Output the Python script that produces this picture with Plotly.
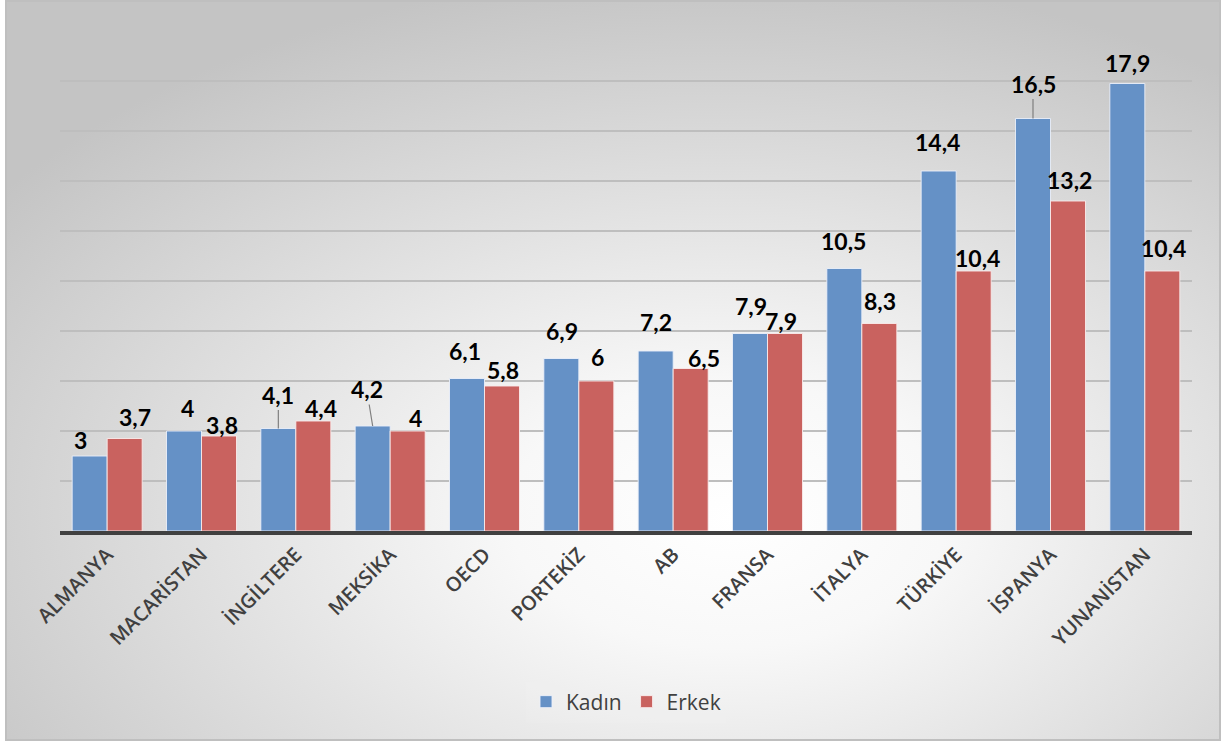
import base64
import plotly.graph_objects as go

# ---- data ----
categories = ["ALMANYA", "MACARİSTAN", "İNGİLTERE", "MEKSİKA", "OECD", "PORTEKİZ",
              "AB", "FRANSA", "İTALYA", "TÜRKİYE", "İSPANYA", "YUNANİSTAN"]
kadin = [3, 4, 4.1, 4.2, 6.1, 6.9, 7.2, 7.9, 10.5, 14.4, 16.5, 17.9]
erkek = [3.7, 3.8, 4.4, 4, 5.8, 6, 6.5, 7.9, 8.3, 10.4, 13.2, 10.4]
series_names = ["Kadın", "Erkek"]

# ---- style / layout ----
W, H = 1223, 742
ML, MR, MT, MB = 60, 31, 31, 211
PW, PH = W - ML - MR, H - MT - MB
BLUE = "#6591C6"
RED = "#C9625F"
BAR_HALF = 17.5  # pixel offset of each bar from category centre

# label pixel offsets relative to bar top centre (dx, dy) and leader lines
k_dx = [-9, 3, 0, -6, -2, 1, 0, 1, -1, -1, 0, 0]
k_dy = [-16, -23, -34, -37, -28, -28, -29, -28, -28, -29, -35, -21]
k_leader = [False, False, True, True, False, False, False, False, False, False, True, False]
e_dx = [10, 3, 8, 8, 1, 1, 13, -4, 1, 4, 1, 1]
e_dy = [-22, -11, -13, -13, -16, -24, -11, -13, -23, -13, -21, -23]


def fmt(v):
    s = ("%g" % v)
    return s.replace(".", ",")


def px2paper_x(px):
    return (px - ML) / PW


def px2paper_y(py):
    return 1 - (py - MT) / PH


fig = go.Figure()
fig.add_trace(go.Bar(name=series_names[0], x=categories, y=kadin,
                     marker=dict(color=BLUE, line=dict(color="rgba(235,240,250,0.9)", width=1))))
fig.add_trace(go.Bar(name=series_names[1], x=categories, y=erkek,
                     marker=dict(color=RED, line=dict(color="rgba(250,235,235,0.9)", width=1))))

annotations = []
label_font = dict(family="Lato, Open Sans, sans-serif", size=23, color="#000000", weight="bold")
for i, c in enumerate(categories):
    # Kadın
    if k_leader[i]:
        annotations.append(dict(x=c, y=kadin[i], xref="x", yref="y", text=fmt(kadin[i]),
                                xshift=-BAR_HALF, showarrow=True, arrowhead=0, arrowwidth=1.2,
                                arrowcolor="#7F7F7F", ax=k_dx[i], ay=k_dy[i], standoff=0,
                                font=label_font))
    else:
        annotations.append(dict(x=c, y=kadin[i], xref="x", yref="y", text=fmt(kadin[i]),
                                xshift=-BAR_HALF + k_dx[i], yshift=-k_dy[i], showarrow=False,
                                yanchor="middle", font=label_font))
    # Erkek
    annotations.append(dict(x=c, y=erkek[i], xref="x", yref="y", text=fmt(erkek[i]),
                            xshift=BAR_HALF + e_dx[i], yshift=-e_dy[i], showarrow=False,
                            yanchor="middle", font=label_font))

# radial gradient background as svg image
svg = ('<svg xmlns="http://www.w3.org/2000/svg" width="1214" height="739" preserveAspectRatio="none">'
       '<defs><radialGradient id="g" cx="0.58" cy="0.68" r="0.72" fx="0.6" fy="0.7">'
       '<stop offset="0" stop-color="#FFFFFF"/>'
       '<stop offset="0.25" stop-color="#F8F8F8"/>'
       '<stop offset="1" stop-color="#C4C4C4"/>'
       '</radialGradient></defs>'
       '<rect width="1214" height="739" fill="url(#g)"/></svg>')
src = "data:image/svg+xml;base64," + base64.b64encode(svg.encode()).decode()
bx0, by0, bx1, by1 = 6, 1, 1220, 740

fig.add_layout_image(dict(source=src, xref="paper", yref="paper",
                          x=px2paper_x(bx0), y=px2paper_y(by0),
                          sizex=(bx1 - bx0) / PW, sizey=(by1 - by0) / PH,
                          xanchor="left", yanchor="top", sizing="stretch", layer="below"))

shapes = [dict(type="rect", xref="paper", yref="paper",
               x0=px2paper_x(bx0), x1=px2paper_x(bx1), y0=px2paper_y(by1), y1=px2paper_y(by0),
               line=dict(color="#BFBFBF", width=2), fillcolor="rgba(0,0,0,0)", layer="above")]

fig.update_layout(
    width=W, height=H,
    margin=dict(l=ML, r=MR, t=MT, b=MB, pad=0),
    paper_bgcolor="white", plot_bgcolor="rgba(0,0,0,0)",
    barmode="group", bargap=0.258, bargroupgap=0.0,
    annotations=annotations, shapes=shapes,
    legend=dict(orientation="h", x=0.5, xanchor="center", y=px2paper_y(702), yanchor="middle",
                font=dict(family="Open Sans", size=21, color="#404040"),
                bgcolor="rgba(255,255,255,0.06)", traceorder="normal"),
    xaxis=dict(type="category", tickangle=-45, showline=True, linecolor="#404040", linewidth=4,
               ticks="", showgrid=False,
               tickfont=dict(family="Open Sans", size=20, color="#404040", weight=600)),
    yaxis=dict(range=[0, 20], dtick=2, showticklabels=False, showgrid=True,
               gridcolor="#BEBEBE", gridwidth=1.5, zeroline=False, showline=False),
    font=dict(family="Open Sans"),
)

fig.write_html("out.html")
